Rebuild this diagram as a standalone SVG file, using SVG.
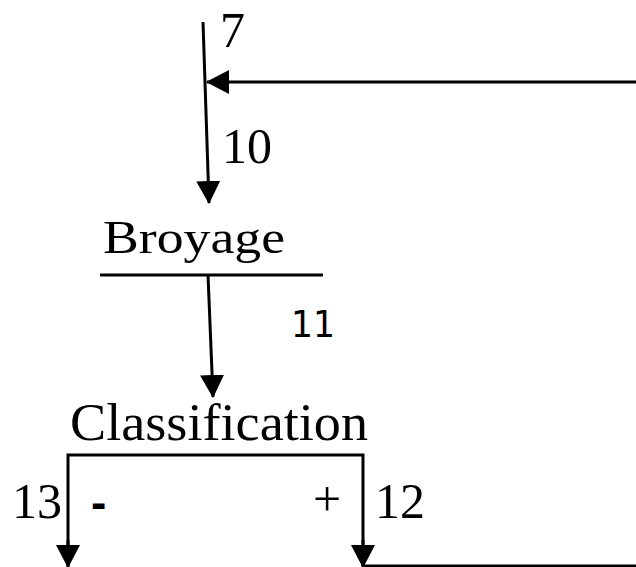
<svg xmlns="http://www.w3.org/2000/svg" width="636" height="567" viewBox="0 0 636 567">
<defs>
<marker id="ah" markerUnits="userSpaceOnUse" markerWidth="24" markerHeight="24" refX="22" refY="12" orient="auto" viewBox="0 0 24 24">
<path d="M0,0 L23,12 L0,24 z" fill="#000"/>
</marker>
<style>
.ln{stroke:#000;stroke-width:3;fill:none}
.ar{marker-end:url(#ah)}
.t{font-family:"Liberation Serif","Times New Roman",serif;fill:#000}
.s{font-family:"Liberation Sans",Arial,sans-serif;fill:#000}
.d{font-family:"DejaVu Sans",sans-serif;fill:#000}
</style>
</defs>
<rect width="636" height="567" fill="#fff"/>
<g id="connectors">
<line class="ln ar" x1="203" y1="22" x2="209" y2="203"/>
<line class="ln ar" x1="636" y1="82" x2="207" y2="82"/>
<line class="ln ar" x1="208" y1="275" x2="213" y2="397"/>
<path class="ln" d="M68,566 V455 H363 V566"/>
<line class="ln ar" x1="68" y1="540" x2="68" y2="567"/>
<line class="ln ar" x1="363" y1="540" x2="363" y2="567"/>
<line class="ln" x1="363" y1="566" x2="636" y2="566"/>
</g>
<g id="label-7"><text class="t" x="220" y="47" font-size="50">7</text></g>
<g id="label-10"><text class="t" x="222" y="163" font-size="50">10</text></g>
<g id="node-broyage">
<text class="t" x="103" y="253" font-size="46" textLength="182" lengthAdjust="spacingAndGlyphs">Broyage</text>
<line class="ln" x1="100" y1="275" x2="323" y2="275"/>
</g>
<g id="label-11"><text class="d" x="291" y="337" font-size="37" textLength="44" lengthAdjust="spacingAndGlyphs">11</text></g>
<g id="node-classification">
<text class="t" x="70" y="440" font-size="52" textLength="298" lengthAdjust="spacingAndGlyphs">Classification</text>
</g>
<g id="label-13"><text class="t" x="12" y="518" font-size="50">13</text></g>
<g id="label-minus"><text class="s" x="91" y="518" font-size="46" font-weight="bold">-</text></g>
<g id="label-plus"><text class="t" x="313" y="516" font-size="50">+</text></g>
<g id="label-12"><text class="t" x="375" y="518" font-size="50">12</text></g>
</svg>
